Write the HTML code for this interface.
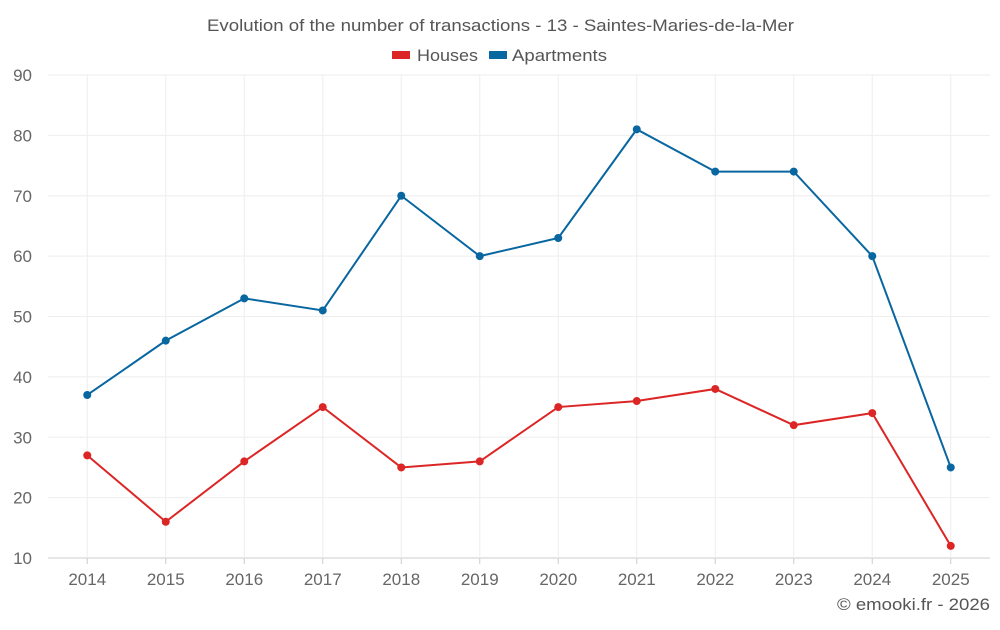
<!DOCTYPE html>
<html><head><meta charset="utf-8"><style>
body{margin:0;background:#fff;}
svg text{font-family:"Liberation Sans",sans-serif;}
</style></head><body>
<svg id="chart" width="1000" height="625" viewBox="0 0 1000 625">
<text x="207" y="31" textLength="587" lengthAdjust="spacingAndGlyphs" font-size="17" fill="#555">Evolution of the number of transactions - 13 - Saintes-Maries-de-la-Mer</text>
<g>
<g><rect x="392" y="51" width="18" height="8" fill="#dc2626"/><text x="417" y="61" textLength="61" lengthAdjust="spacingAndGlyphs" font-size="17" fill="#555">Houses</text></g>
<g><rect x="489" y="51" width="18" height="8" fill="#0866a0"/><text x="512" y="61" textLength="95" lengthAdjust="spacingAndGlyphs" font-size="17" fill="#555">Apartments</text></g>
</g>
<g id="grid"></g><g id="axes"></g><g id="series"></g>
<text x="837" y="610" textLength="153" lengthAdjust="spacingAndGlyphs" font-size="17" fill="#555">© emooki.fr - 2026</text>
</svg>
<script>
const categories=["2014","2015","2016","2017","2018","2019","2020","2021","2022","2023","2024","2025"];
const houses=[27,16,26,35,25,26,35,36,38,32,34,12];
const apartments=[37,46,53,51,70,60,63,81,74,74,60,25];
const yTicks=[10,20,30,40,50,60,70,80,90];
const L=48,R=990,T=75,B=558,yMin=10,yMax=90;
const bw=(R-L)/categories.length;
const x=i=>L+bw*(i+0.5);
const y=v=>B-(v-yMin)/(yMax-yMin)*(B-T);
const NS="http://www.w3.org/2000/svg";
function mk(tag,attrs,parent){const e=document.createElementNS(NS,tag);for(const k in attrs)e.setAttribute(k,attrs[k]);parent.appendChild(e);return e;}
const grid=document.getElementById('grid'),axes=document.getElementById('axes'),ser=document.getElementById('series');
yTicks.forEach(t=>{
 const l=mk('line',{x1:L,x2:R,y1:y(t),y2:y(t),stroke:t===yMin?'#ccc':'#eee'},grid);
 
 
 const tx=mk('text',{x:L-16,y:y(t)+6,'text-anchor':'end','font-size':17,fill:'#666'},axes);
 tx.textContent=t;
 
 
});
categories.forEach((c,i)=>{
 const l=mk('line',{x1:x(i),x2:x(i),y1:T,y2:B,stroke:'#eee'},grid);
 
 
 const tk=mk('line',{x1:x(i),x2:x(i),y1:B,y2:B+6,stroke:'#ccc'},axes);
 
 
 const tx=mk('text',{x:x(i),y:B+27,'text-anchor':'middle','font-size':17,fill:'#666'},axes);
 tx.textContent=c;
 
 
});
function draw(data,color,name){
 const p=mk('polyline',{points:data.map((v,i)=>x(i)+','+y(v)).join(' '),fill:'none',stroke:color,'stroke-width':2},ser);
 
 
 data.forEach((v,i)=>{
  const c=mk('circle',{cx:x(i),cy:y(v),r:4,fill:color},ser);
  
  
 });
}
draw(houses,'#dc2626','houses');
draw(apartments,'#0866a0','apartments');
</script>
</body></html>
